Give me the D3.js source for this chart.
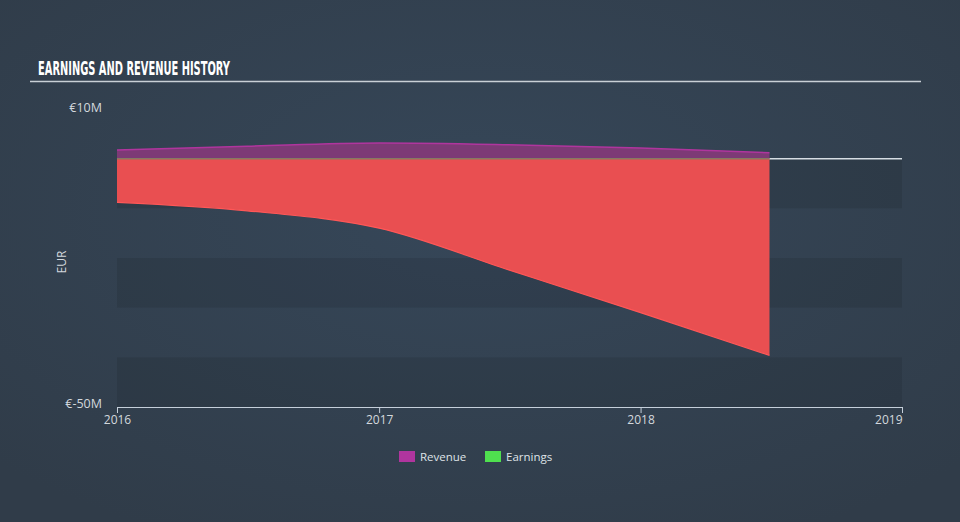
<!DOCTYPE html>
<html>
<head>
<meta charset="utf-8">
<script src="https://cdn.jsdelivr.net/npm/d3@7"></script>
<style>
  html, body { margin: 0; padding: 0; background: #344351; }
  svg { display: block; }
</style>
</head>
<body>
<svg id="chart" width="960" height="522"></svg>
<script>
// ---- data ----
const dates = ["2016-01-01", "2016-07-01", "2017-01-01", "2017-07-01", "2018-01-01", "2018-06-30"];
const revenue = [1.75, 2.5, 3.15, 2.8, 2.15, 1.2];
const earnings = [-8.8, -10.5, -14.0, -22.4, -31.0, -39.6];
const xTickLabels = ["2016", "2017", "2018", "2019"];
const yTickValues = [10, -50];
const bandEdges = [0, -10, -20, -30, -40, -50];
const seriesNames = ["Revenue", "Earnings"];
const seriesColors = ["#b0359e", "#4fe04f"];

const parse = d3.timeParse("%Y-%m-%d");
const rev = dates.map((d, i) => ({ date: parse(d), v: revenue[i] }));
const earn = dates.map((d, i) => ({ date: parse(d), v: earnings[i] }));

const svg = d3.select("#chart");
const W = 960, H = 522;

// background gradient
const defs = svg.append("defs");
const rg = defs.append("radialGradient").attr("id", "bg")
  .attr("cx", "50%").attr("cy", "40%").attr("r", "70%");
rg.append("stop").attr("offset", "0%").attr("stop-color", "#364759");
rg.append("stop").attr("offset", "100%").attr("stop-color", "#303c49");
svg.append("rect").attr("width", W).attr("height", H).attr("fill", "url(#bg)");

const x = d3.scaleTime()
  .domain([new Date(2016, 0, 1), new Date(2019, 0, 1)])
  .range([117, 902]);
const y = d3.scaleLinear().domain([-50, 10]).range([407, 109]);

// title
svg.append("text")
  .attr("x", 38).attr("y", 75)
  .attr("fill", "#ffffff")
  .attr("font-family", "'DejaVu Sans Condensed', 'Liberation Sans Narrow', sans-serif")
  .attr("font-weight", "bold")
  .attr("font-size", 19)
  .attr("textLength", 192)
  .attr("lengthAdjust", "spacingAndGlyphs")
  .text("EARNINGS AND REVENUE HISTORY");
svg.append("line")
  .attr("x1", 30).attr("x2", 921).attr("y1", 81.5).attr("y2", 81.5)
  .attr("stroke", "#c9d0d6").attr("stroke-width", 1.5);

// bands (darker every other 10M)
const bands = [];
for (let i = 0; i < bandEdges.length - 1; i += 2) bands.push([bandEdges[i], bandEdges[i + 1]]);
svg.append("g").selectAll("rect").data(bands).join("rect")
  .attr("x", x.range()[0]).attr("width", x.range()[1] - x.range()[0])
  .attr("y", d => y(d[0])).attr("height", d => y(d[1]) - y(d[0]))
  .attr("fill", "#000").attr("fill-opacity", 0.09);

// zero line
svg.append("line")
  .attr("x1", x.range()[0]).attr("x2", x.range()[1])
  .attr("y1", y(0)).attr("y2", y(0))
  .attr("stroke", "#d6dde3").attr("stroke-width", 1.5);

const curve = d3.curveMonotoneX;

// revenue area
svg.append("path").datum(rev)
  .attr("d", d3.area().curve(curve).x(d => x(d.date)).y0(y(0)).y1(d => y(d.v)))
  .attr("fill", "#7d3a76");
svg.append("path").datum(rev)
  .attr("d", d3.line().curve(curve).x(d => x(d.date)).y(d => y(d.v)))
  .attr("fill", "none").attr("stroke", "#b0359e").attr("stroke-width", 1.5);

// earnings area
svg.append("path").datum(earn)
  .attr("d", d3.area().curve(curve).x(d => x(d.date)).y0(y(0)).y1(d => y(d.v)))
  .attr("fill", "#e94f51");
svg.append("path").datum(earn)
  .attr("d", d3.line().curve(curve).x(d => x(d.date)).y(d => y(d.v)))
  .attr("fill", "none").attr("stroke", "#ff5757").attr("stroke-width", 1.2);

// olive seam at zero within the data range
svg.append("line")
  .attr("x1", x(rev[0].date)).attr("x2", x(rev[rev.length - 1].date))
  .attr("y1", y(0)).attr("y2", y(0))
  .attr("stroke", "#857a62").attr("stroke-width", 1.5);

// y labels
const font = "'Open Sans', 'DejaVu Sans', sans-serif";
svg.append("g").selectAll("text").data(yTickValues).join("text")
  .attr("x", 102)
  .attr("y", d => d === 10 ? y(d) + 3 : y(d) + 1)
  .attr("text-anchor", "end")
  .attr("fill", "#d3d8dd")
  .attr("font-family", font).attr("font-size", 12.5)
  .text(d => "€" + d + "M");
svg.append("text")
  .attr("transform", "translate(66,262) rotate(-90)")
  .attr("text-anchor", "middle")
  .attr("fill", "#d3d8dd")
  .attr("font-family", font).attr("font-size", 12)
  .text("EUR");

// x axis
const xTicks = xTickLabels.map(s => new Date(+s, 0, 1));
const xAxis = d3.axisBottom(x).tickValues(xTicks).tickSize(6).tickSizeOuter(0)
  .tickFormat(d3.timeFormat("%Y"));
const gx = svg.append("g").attr("transform", "translate(0,407)").call(xAxis);
gx.select(".domain").attr("stroke", "#c5cfda").attr("stroke-width", 1.2);
gx.selectAll(".tick line").attr("stroke", "#c5cfda");
gx.selectAll(".tick text")
  .attr("fill", "#d3d8dd")
  .attr("font-family", font).attr("font-size", 12)
  .attr("y", 8)
  .attr("text-anchor", (d, i) => i === xTicks.length - 1 ? "end" : "middle");

// legend
const legendX = [399, 485];
const lg = svg.append("g").selectAll("g").data(seriesNames).join("g")
  .attr("transform", (d, i) => `translate(${legendX[i]},451)`);
lg.append("rect").attr("width", 16).attr("height", 11)
  .attr("fill", (d, i) => seriesColors[i]);
lg.append("text").attr("x", 21).attr("y", 10)
  .attr("fill", "#dfe3e7")
  .attr("font-family", font).attr("font-size", 11.5)
  .text(d => d);
</script>
</body>
</html>
